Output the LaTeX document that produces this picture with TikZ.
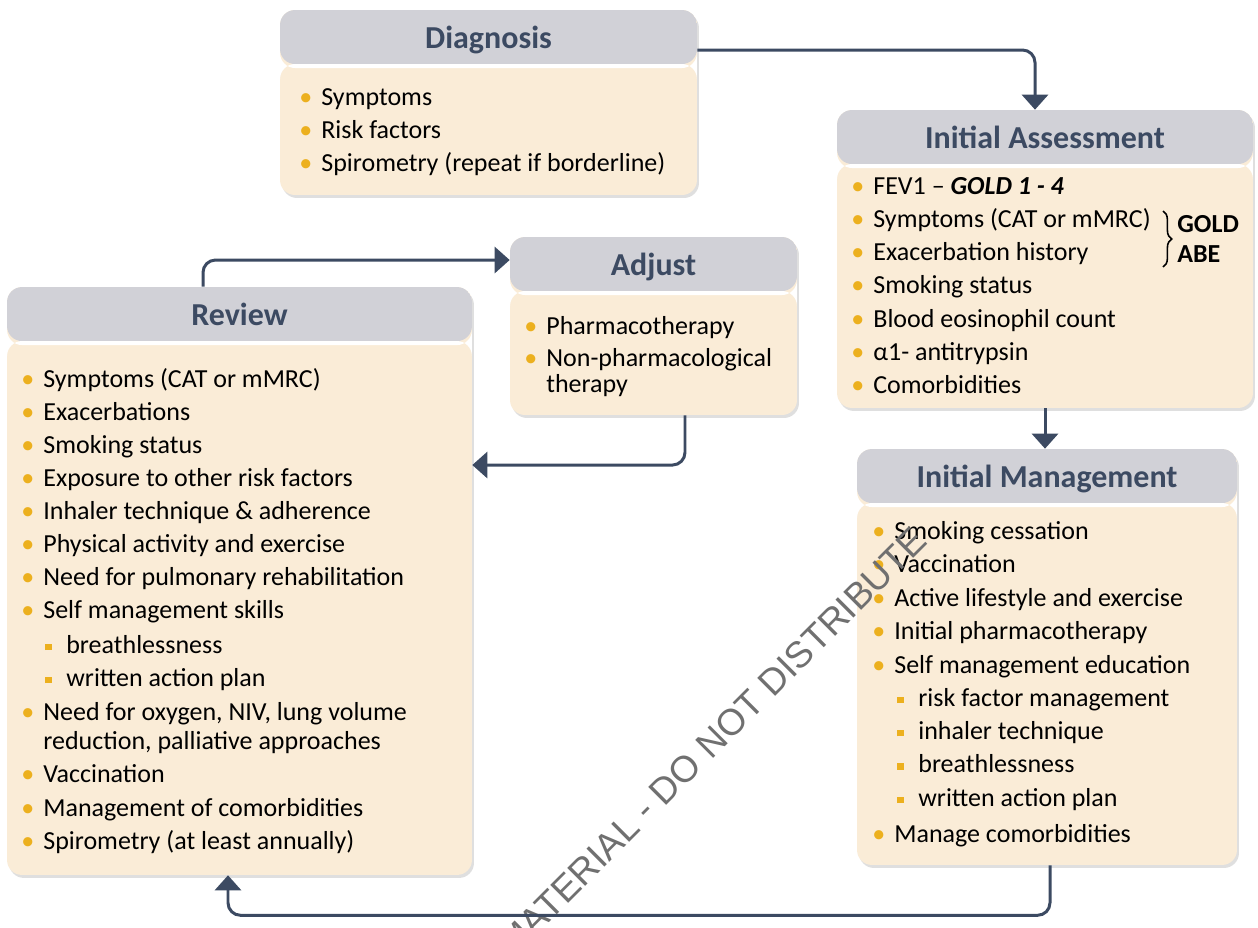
\documentclass[tikz,border=0pt]{standalone}
\usepackage{fontspec}
\setmainfont{Carlito}
\newfontfamily\wmfont{Liberation Sans}
\usetikzlibrary{arrows.meta,shadows,decorations.pathreplacing}

\definecolor{headgray}{RGB}{209,209,215}
\definecolor{cream}{RGB}{250,236,215}
\definecolor{slate}{RGB}{60,74,98}
\definecolor{bulgold}{RGB}{236,176,30}
\definecolor{wmgray}{RGB}{112,112,112}

\newcommand{\ibul}{\makebox[0.44cm][l]{\textcolor{bulgold}{\textbullet}}}
\newcommand{\isq}{\makebox[0.42cm][l]{\textcolor{bulgold}{\rule[0.06cm]{0.13cm}{0.13cm}}}}

\tikzset{
  box/.style={fill=cream, inner sep=0pt, rounded corners=0.3cm,
    drop shadow={shadow xshift=0.04cm, shadow yshift=-0.06cm, opacity=0.25},
    path picture={
      \fill[headgray] (path picture bounding box.north west)
        rectangle ([yshift=-1.08cm]path picture bounding box.north east);
      \fill[white] ([yshift=-1.08cm]path picture bounding box.north west)
        rectangle ([yshift=-1.16cm]path picture bounding box.north east);
    }},
  ttl/.style={anchor=base, text=slate, font=\fontsize{18.2}{21}\selectfont\bfseries},
  itm/.style={anchor=base west, inner sep=0pt, font=\fontsize{14.8}{17}\selectfont},
  flow/.style={draw=slate, line width=1.7pt, rounded corners=0.25cm,
    -{Triangle[width=0.52cm,length=0.3cm]}}
}

\begin{document}
\begin{tikzpicture}[x=0.02cm,y=-0.02cm]
  \useasboundingbox (0,0) rectangle (1258,927);
  \fill[white] (0,0) rectangle (1258,927);

  %% Boxes
  \node[box, minimum width=8.34cm, minimum height=3.7cm] (diag) at (488.5,102.5) {};
  \node[box, minimum width=8.32cm, minimum height=5.96cm] (ia) at (1045,259) {};
  \node[box, minimum width=5.74cm, minimum height=3.56cm] (adj) at (653.5,326) {};
  \node[box, minimum width=9.3cm, minimum height=11.76cm] (rev) at (239.5,581) {};
  \node[box, minimum width=7.6cm, minimum height=8.32cm] (im) at (1047,657) {};

  %% Titles
  \node[ttl] (diag-t) at ([yshift=-0.77cm]diag.north) {Diagnosis};
  \node[ttl] (ia-t) at ([yshift=-0.77cm]ia.north) {Initial Assessment};
  \node[ttl] (adj-t) at ([yshift=-0.77cm]adj.north) {Adjust};
  \node[ttl] (rev-t) at ([yshift=-0.77cm]rev.north) {Review};
  \node[ttl] (im-t) at ([yshift=-0.77cm]im.north) {Initial Management};

  %% Diagnosis
  \foreach \t [count=\i from 0] in {Symptoms, Risk factors, Spirometry (repeat if borderline)}
    \node[itm] (diag-\i) at (299,{105+33*\i}) {\ibul\t};

  %% Initial assessment
  \foreach \t [count=\i from 0] in {FEV1 -- \textbf{\textit{GOLD 1 - 4}}, Symptoms (CAT or mMRC),
      Exacerbation history, Smoking status, Blood eosinophil count, α1- antitrypsin, Comorbidities}
    \node[itm] (ia-\i) at (851,{194+33.3*\i}) {\ibul\t};
  \draw[line width=0.9pt, decorate, decoration={brace, amplitude=5pt}] (1163,211) -- (1163,267);
  \node[itm, anchor=west, align=left, font=\fontsize{14.8}{17}\selectfont\bfseries] (gold) at (1177,239) {GOLD\\ABE};

  %% Adjust
  \node[itm] (adj-0) at (524,334) {\ibul Pharmacotherapy};
  \node[itm] (adj-1) at (524,366) {\ibul Non-pharmacological};
  \node[itm] (adj-2) at (546,392) {therapy};

  %% Review
  \foreach \t [count=\i from 0] in {Symptoms (CAT or mMRC), Exacerbations, Smoking status,
      Exposure to other risk factors, Inhaler technique \& adherence, Physical activity and exercise,
      Need for pulmonary rehabilitation, Self management skills}
    \node[itm] (rev-\i) at (21,{387+33.1*\i}) {\ibul\t};
  \node[itm] (rev-s1) at (45,653) {\isq breathlessness};
  \node[itm] (rev-s2) at (45,686) {\isq written action plan};
  \node[itm] (rev-8) at (21,720) {\ibul Need for oxygen, NIV, lung volume};
  \node[itm] (rev-8b) at (43,749) {reduction, palliative approaches};
  \node[itm] (rev-9) at (21,782) {\ibul Vaccination};
  \node[itm] (rev-10) at (21,816) {\ibul Management of comorbidities};
  \node[itm] (rev-11) at (21,849) {\ibul Spirometry (at least annually)};

  %% Initial management
  \foreach \t [count=\i from 0] in {Smoking cessation, Vaccination, Active lifestyle and exercise,
      Initial pharmacotherapy, Self management education}
    \node[itm] (im-\i) at (872,{539+33.5*\i}) {\ibul\t};
  \foreach \t [count=\i from 0] in {risk factor management, inhaler technique, breathlessness, written action plan}
    \node[itm] (im-s\i) at (897,{706+33.4*\i}) {\isq\t};
  \node[itm] (im-5) at (872,842) {\ibul Manage comorbidities};

  %% Watermark
  \node[rotate=45, text=wmgray, font=\wmfont\fontsize{21}{21}\selectfont] (wmark) at (712,742)
    {MATERIAL - DO NOT DISTRIBUTE};

  %% Arrows
  \draw[flow] ([yshift=1.05cm]diag.east) -| ([xshift=-0.2cm]ia.north);
  \draw[flow, rounded corners=0pt] (ia.south) -- (ia.south |- im.north);
  \draw[flow] ([xshift=0.06cm]im.south) -- ++(0,50) -| ([xshift=-0.23cm]rev.south);
  \draw[flow] ([xshift=-0.73cm]rev.north) |- ([yshift=1.32cm]adj.west);
  \draw[flow] ([xshift=0.63cm]adj.south) |- ([yshift=2.32cm]rev.east);
\end{tikzpicture}
\end{document}
